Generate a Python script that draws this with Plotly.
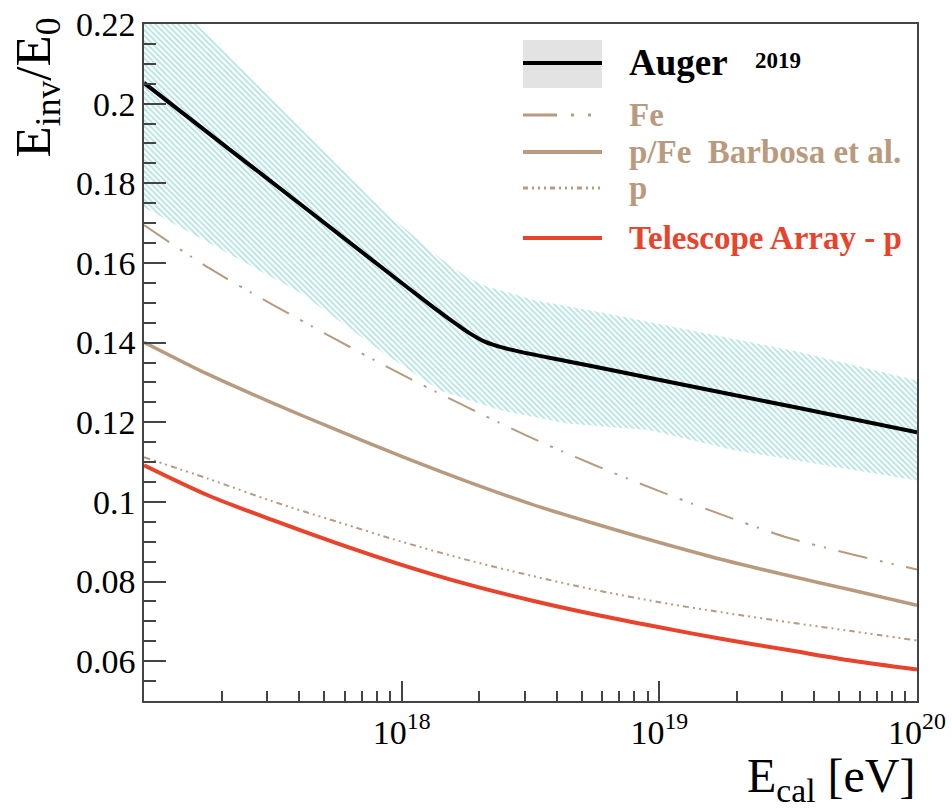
import numpy as np
import plotly.graph_objects as go

# ---- curves: log10(E_cal / eV) and E_inv/E_0 ----
auger_logE = [17.0, 17.334, 17.606, 17.866, 18.122, 18.20, 18.26, 18.32, 18.40, 18.642, 18.770, 18.964, 19.547, 20.0]
auger_ratio = [0.2052, 0.1884, 0.1748, 0.1617, 0.1489, 0.1452, 0.1425, 0.1403, 0.1386, 0.1353, 0.1337, 0.1311, 0.1235, 0.1175]

band_hi_logE = [17.0, 17.334, 17.606, 17.928, 18.149, 18.254, 18.316, 18.510, 18.770, 18.964, 19.547, 20.0]
band_hi = [0.235, 0.2117, 0.194, 0.1733, 0.1612, 0.1564, 0.1544, 0.1507, 0.1476, 0.1451, 0.1376, 0.1305]
band_lo_logE = [17.0, 17.606, 17.928, 18.149, 18.382, 18.642, 18.964, 19.287, 20.0]
band_lo = [0.174, 0.1525, 0.1375, 0.128, 0.123, 0.1197, 0.118, 0.113, 0.1054]

grid_logE = [17.0, 17.25, 17.5, 17.75, 18.0, 18.25, 18.5, 18.75, 19.0, 19.25, 19.5, 19.75, 20.0]
fe_ratio = [0.1695, 0.1588, 0.1495, 0.1406, 0.1320, 0.1239, 0.1162, 0.1092, 0.1027, 0.0966, 0.0910, 0.0868, 0.0830]
pfe_ratio = [0.1401, 0.1320, 0.1248, 0.1180, 0.1114, 0.1052, 0.0995, 0.0945, 0.0898, 0.0854, 0.0815, 0.0778, 0.0740]
p_ratio = [0.1112, 0.1058, 0.1001, 0.0950, 0.0900, 0.0855, 0.0815, 0.0779, 0.0748, 0.0722, 0.0698, 0.0675, 0.0652]
ta_ratio = [0.1092, 0.1016, 0.0954, 0.0896, 0.0842, 0.0794, 0.0753, 0.0717, 0.0685, 0.0655, 0.0628, 0.0601, 0.0579]

x_tick_exponents = [18, 19, 20]

TAN = "#b89b7e"
RED = "#e8432b"
AXC = "#444444"
FONT = "Liberation Serif"


def energy(logs):
    return 10.0 ** np.asarray(logs, dtype=float)


fig = go.Figure()

# Auger systematic band (hatched)
band_x = np.concatenate([energy(band_hi_logE), energy(band_lo_logE)[::-1]])
band_y = np.concatenate([band_hi, band_lo[::-1]])
fig.add_trace(go.Scatter(
    x=band_x, y=band_y, mode="lines", fill="toself",
    line=dict(width=0, color="rgba(0,0,0,0)"),
    fillcolor="rgba(255,255,255,0)",
    fillpattern=dict(shape="\\", fgcolor="#62c4c4", bgcolor="rgba(255,255,255,0)",
                     size=4, solidity=0.45, fillmode="overlay"),
    hoverinfo="skip", showlegend=False))

curves = [
    (grid_logE, fe_ratio, TAN, 2, "30px,13px,3px,9px,2px,13px"),
    (grid_logE, pfe_ratio, TAN, 3.5, "solid"),
    (grid_logE, p_ratio, TAN, 2, "6px,4px,2px,4px,2px,4px,2px,4px"),
    (grid_logE, ta_ratio, RED, 4, "solid"),
    (auger_logE, auger_ratio, "black", 4, "solid"),
]
for lx, ly, col, w, dash in curves:
    fig.add_trace(go.Scatter(
        x=energy(lx), y=ly, mode="lines",
        line=dict(color=col, width=w, dash=dash, shape="spline", smoothing=0.8),
        hoverinfo="skip", showlegend=False))

# ---- hand-drawn legend ----
x0, x1, xt = 0.4903, 0.5925, 0.6248
legend_rows = [
    (0.9424, "black", 4, "solid", "<b>Auger</b>", 37),
    (0.8656, TAN, 3, "34px,14px,3px,14px,3px,14px", "<b>Fe</b>", 33),
    (0.8109, TAN, 4, "solid", "<b>p/Fe\u00a0 Barbosa et al.</b>", 33),
    (0.7578, TAN, 3, "5px,4px,2px,4px,2px,4px,2px,4px", "<b>p</b>", 33),
    (0.6839, RED, 4, "solid", "<b>Telescope Array - p</b>", 33),
]
shapes = [dict(type="rect", xref="paper", yref="paper", x0=x0, x1=x1, y0=0.9055, y1=0.9764,
               fillcolor="#e3e3e3", line=dict(width=0), layer="below")]
annotations = []
for yy, col, w, dash, txt, fs in legend_rows:
    shapes.append(dict(type="line", xref="paper", yref="paper", x0=x0, x1=x1, y0=yy, y1=yy,
                       line=dict(color=col, width=w, dash=dash)))
    annotations.append(dict(xref="paper", yref="paper", x=xt, y=yy, xanchor="left", yanchor="middle",
                            text=txt, showarrow=False,
                            font=dict(family=FONT, size=fs, color=col)))
annotations.append(dict(xref="paper", yref="paper", x=0.7872, y=0.9454, xanchor="left", yanchor="middle",
                        text="<b>2019</b>", showarrow=False,
                        font=dict(family=FONT, size=23, color="black")))

# axis titles
annotations.append(dict(xref="paper", yref="paper", x=-0.139, y=1.012, xanchor="center", yanchor="top",
                        text="E<sub>inv</sub>/E<sub>0</sub>", textangle=-90, showarrow=False,
                        font=dict(family=FONT, size=51, color="black")))
annotations.append(dict(xref="paper", yref="paper", x=1.0, y=-0.162, xanchor="right", yanchor="bottom",
                        text="E<sub>cal</sub> [eV]", showarrow=False,
                        font=dict(family=FONT, size=48, color="black")))

fig.update_layout(
    width=952, height=809,
    margin=dict(l=144, r=35, t=24, b=108, autoexpand=False),
    paper_bgcolor="white", plot_bgcolor="white",
    font=dict(family=FONT, color="black"),
    shapes=shapes, annotations=annotations,
)
fig.update_xaxes(
    type="log", range=[17, 20], automargin=False,
    tickmode="array",
    tickvals=[10.0 ** e for e in x_tick_exponents],
    ticktext=["10<sup>%d</sup>" % e for e in x_tick_exponents],
    ticklabeloverflow="allow",
    ticks="inside", ticklen=20, tickwidth=1.5, tickcolor=AXC,
    minor=dict(ticks="inside", ticklen=10, tickwidth=1.5, tickcolor=AXC, dtick="D1"),
    showline=True, linecolor=AXC, linewidth=1.5, mirror=True,
    showgrid=False, zeroline=False,
    tickfont=dict(family=FONT, size=34, color="black"),
)
fig.update_yaxes(
    range=[0.05, 0.22], tick0=0, dtick=0.02, automargin=False,
    ticks="inside", ticklen=22, tickwidth=1.5, tickcolor=AXC,
    minor=dict(ticks="inside", ticklen=12, tickwidth=1.5, tickcolor=AXC, dtick=0.005, tick0=0),
    showline=True, linecolor=AXC, linewidth=1.5, mirror=True,
    showgrid=False, zeroline=False,
    tickfont=dict(family=FONT, size=34, color="black"),
)

fig.write_html("out.html")
